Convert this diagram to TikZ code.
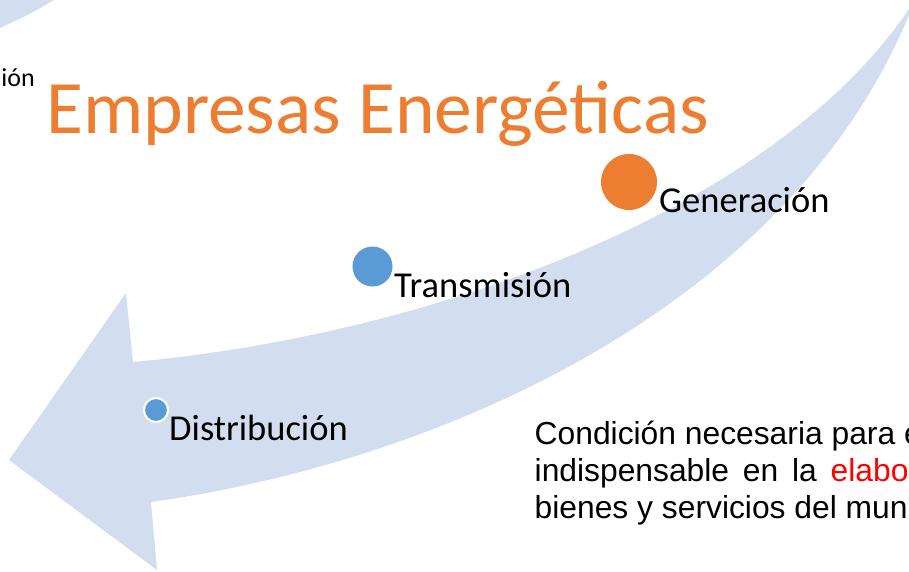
\documentclass[tikz,border=0pt]{standalone}
\usepackage{fontspec}
\setmainfont{Carlito}
\newfontfamily\arialfont{Liberation Sans}
\usetikzlibrary{positioning}
\definecolor{bandblue}{HTML}{D2DEEF}
\definecolor{accentorange}{HTML}{ED7D31}
\definecolor{accentblue}{HTML}{5B9BD5}

\begin{document}
\begin{tikzpicture}[x=1pt,y=-1pt,font=\fontsize{36.5}{40}\selectfont]
\tikzstyle{dot}=[circle,inner sep=0pt]
\tikzstyle{stage}=[anchor=base west,inner sep=0pt,text=black]
\tikzstyle{body}=[anchor=base west,inner sep=0pt,font=\arialfont\fontsize{31.8}{37}\selectfont]
\useasboundingbox (0,0) rectangle (909,572);
\clip (0,0) rectangle (909,572);
%% background arrows %%
\fill[bandblue] (0,0) -- (54,0) .. controls (30,14) .. (0,28) -- cycle;
\fill[bandblue] (915,0) .. controls (780,210) and (430,335) .. (133,362)
  -- (126,293) -- (9,460) -- (157,570) -- (151,502)
  .. controls (450,460) and (800,300) .. (915,0) -- cycle;
%% TikZ-figure elements %%
\node[stage,anchor=base east,font=\fontsize{26}{30}\selectfont] at (35,87) (prev) {ión};
\node[stage,text=accentorange,font=\fontsize{75.5}{80}\selectfont] at (46,134) (title) {Empresas Energéticas};
\node[dot,fill=accentorange,minimum size=56pt] at (629,182) (gen) {};
\node[dot,fill=accentblue,minimum size=40pt] at (372.5,266.5) (trans) {};
\node[dot,fill=accentblue,draw=white,line width=2pt,minimum size=24pt] at (156,410) (dist) {};
\node[stage] at (659,212) (genlab) {Generación};
\node[stage] at (394,297) (translab) {Transmisión};
\node[stage] at (169,440) (distlab) {Distribución};
\node[body] at (534.5,444) (line1) {Condición necesaria para e};
\node[body] at (534.5,481) (line2) {\spaceskip=13.8pt\relax indispensable en la \textcolor{red}{elabor}};
\node[body] at (534.5,518) (line3) {bienes y servicios del mun};
\end{tikzpicture}
\end{document}
